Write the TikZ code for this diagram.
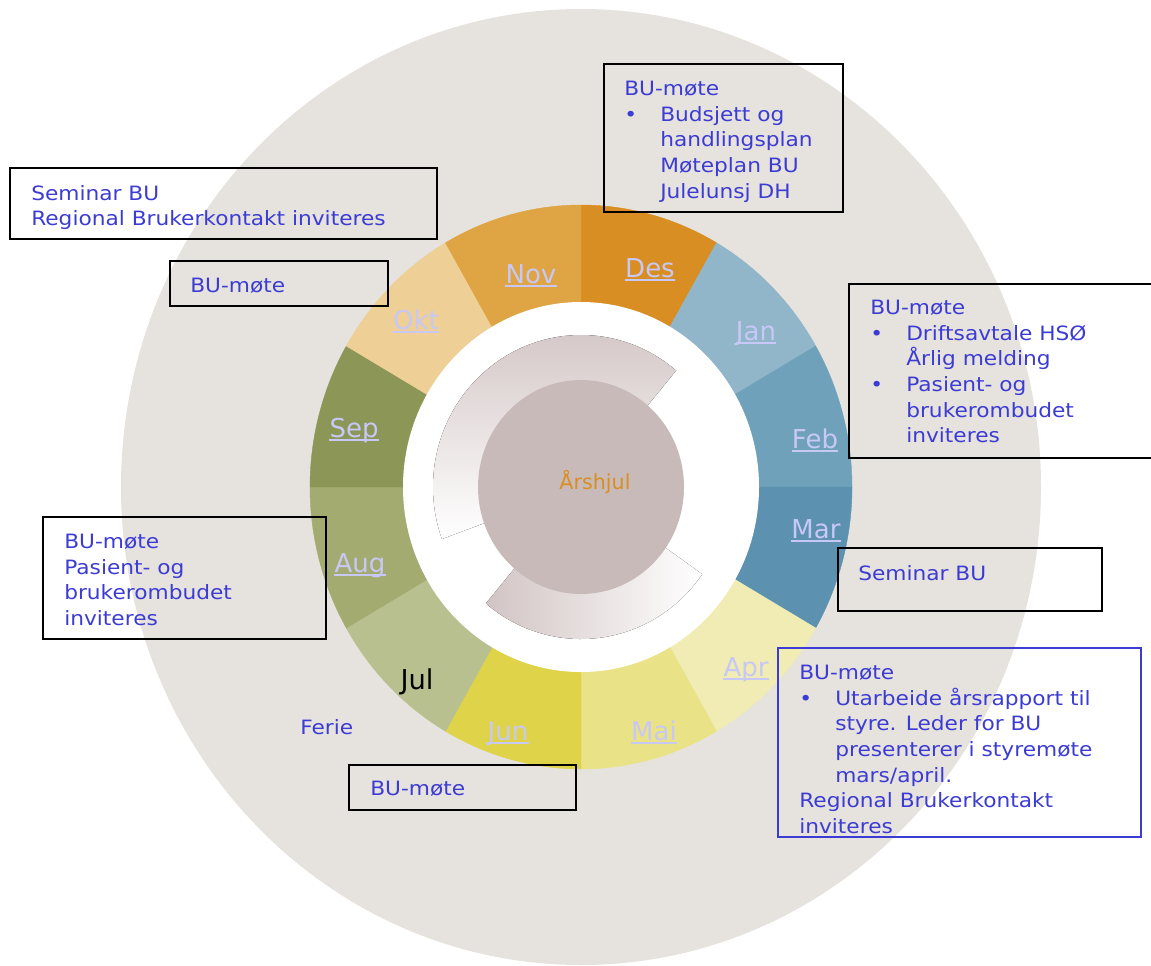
\documentclass[tikz,border=0pt]{standalone}
\usepackage{fontspec}
\setmainfont{DejaVu Sans}
\newfontfamily\boxfont[FakeStretch=1.1]{DejaVu Sans}
\usepackage{tikz}

\definecolor{beige}{RGB}{230,226,222}
\definecolor{cnov}{RGB}{223,164,67}
\definecolor{cdes}{RGB}{216,142,34}
\definecolor{cjan}{RGB}{145,181,201}
\definecolor{cfeb}{RGB}{111,162,186}
\definecolor{cmar}{RGB}{92,146,176}
\definecolor{capr}{RGB}{240,236,179}
\definecolor{cmai}{RGB}{233,226,135}
\definecolor{cjun}{RGB}{223,211,74}
\definecolor{cjul}{RGB}{185,192,144}
\definecolor{caug}{RGB}{163,171,113}
\definecolor{csep}{RGB}{139,150,87}
\definecolor{cokt}{RGB}{238,207,150}
\definecolor{cdisk}{RGB}{201,186,186}
\definecolor{cpiece}{RGB}{210,196,196}
\definecolor{bluetxt}{RGB}{60,60,212}
\definecolor{montxt}{RGB}{200,200,246}

\begin{document}
\begin{tikzpicture}[x=0.75pt, y=0.75pt,
    boxtxt/.style={anchor=north west, inner sep=0pt, align=left, text=bluetxt,
      font=\boxfont\fontsize{14.8pt}{19.2pt}\selectfont},
    boxline/.style={draw=black, line width=1.1pt},
    mon/.style={anchor=base, inner sep=0pt, text=montxt,
      font=\fontsize{19.5pt}{23pt}\selectfont},
    monline/.style={draw=montxt, line width=1.5pt}
  ]
    \useasboundingbox (0,0) rectangle (1151,-965);
    \coordinate (c) at (581,-487);
    \fill[beige] (c) ellipse[x radius=460, y radius=478];
    \foreach \a/\col in {60/cdes, 30/cjan, 0/cfeb, -30/cmar, -60/capr, -90/cmai,
        -120/cjun, -150/cjul, 180/caug, 150/csep, 120/cokt, 90/cnov}
      \filldraw[fill=\col, draw=\col, line width=0.3pt] (c) -- ++(\a:271 and 282)
        arc[start angle=\a, delta angle=30, x radius=271, y radius=282] -- cycle;
    \fill[white] (c) ellipse[x radius=178, y radius=185];
    \fill[top color=cpiece, middle color=cpiece!95!white, bottom color=white]
      (c) -- ++(50:148 and 152) arc[start angle=50, end angle=200, x radius=148, y radius=152] -- cycle;
    \fill[left color=cpiece, middle color=cpiece!95!white, right color=white]
      (c) -- ++(230:148 and 152) arc[start angle=230, end angle=325, x radius=148, y radius=152] -- cycle;
    \fill[cdisk] (c) ellipse[x radius=103, y radius=107];
    \node[anchor=base, inner sep=0pt, text=cdes, font=\fontsize{15.5pt}{18pt}\selectfont]
      (hub) at (595,-489) {Årshjul};

    \foreach \name/\lx/\ly in {Des/650/277, Jan/756/340, Feb/815/448, Mar/816/538,
        Apr/746/676, Mai/654/740, Jun/508/740, Aug/360/572, Sep/354/437,
        Okt/416/329, Nov/531/283} {
      \node[mon] (m\name) at (\lx,-\ly) {\name};
      \draw[monline] ([yshift=-1.9pt]m\name.base west) -- ([yshift=-1.9pt]m\name.base east);
    }
    \node[mon, text=black, font=\fontsize{20.5pt}{24pt}\selectfont] (mJul) at (417,-689) {Jul};

    \draw[boxline, line width=1.5pt] (10,-168) rectangle (437,-239);
    \node[boxtxt] (seminar) at (31,-185) {Seminar BU\\Regional Brukerkontakt inviteres};
    \draw[boxline] (170,-261) rectangle (388,-306);
    \node[boxtxt] (okt) at (190,-278) {BU-møte};
    \draw[boxline] (604,-64) rectangle (843,-212);
    \node[boxtxt] (des) at (624,-81) {BU-møte\\
      \makebox[27pt][l]{\textbullet}Budsjett og\\
      \hspace*{27pt}handlingsplan\\
      \hspace*{27pt}Møteplan BU\\
      \hspace*{27pt}Julelunsj DH};
    \draw[boxline] (849,-284) rectangle (1153,-458);
    \node[boxtxt] (feb) at (870,-300) {BU-møte\\
      \makebox[27pt][l]{\textbullet}Driftsavtale HSØ\\
      \hspace*{27pt}Årlig melding\\
      \makebox[27pt][l]{\textbullet}Pasient- og\\
      \hspace*{27pt}brukerombudet\\
      \hspace*{27pt}inviteres};
    \draw[boxline] (838,-548) rectangle (1102,-611);
    \node[boxtxt] (mar) at (858,-565) {Seminar BU};
    \draw[boxline, draw=bluetxt] (778,-648) rectangle (1141,-837);
    \node[boxtxt] (apr) at (799,-665) {BU-møte\\
      \makebox[27pt][l]{\textbullet}Utarbeide årsrapport til\\
      \hspace*{27pt}styre. Leder for BU\\
      \hspace*{27pt}presenterer i styremøte\\
      \hspace*{27pt}mars/april.\\
      Regional Brukerkontakt\\
      inviteres};
    \draw[boxline] (43,-517) rectangle (326,-639);
    \node[boxtxt] (aug) at (64,-534) {BU-møte\\Pasient- og\\brukerombudet\\inviteres};
    \draw[boxline] (349,-765) rectangle (576,-810);
    \node[boxtxt] (jun) at (370,-781) {BU-møte};
    \node[boxtxt] (ferie) at (300,-719) {Ferie};
\end{tikzpicture}
\end{document}
